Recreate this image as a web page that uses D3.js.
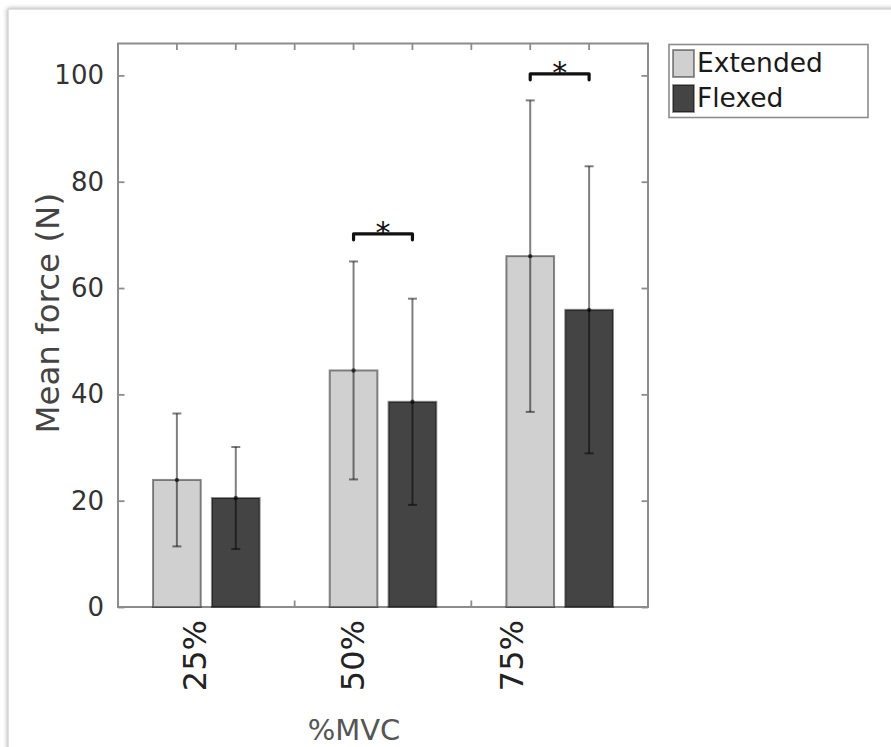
<!DOCTYPE html>
<html>
<head>
<meta charset="utf-8">
<script src="https://cdn.jsdelivr.net/npm/d3@7/dist/d3.min.js"></script>
<style>
  html, body { margin: 0; padding: 0; background: #fff; }
  svg { display: block; }
  text { font-family: "DejaVu Sans", sans-serif; }
</style>
</head>
<body>
<svg id="chart" width="891" height="747"></svg>
<script>
// Mean force per contraction level, wrist extended vs flexed
const categories = ["25%", "50%", "75%"];
const seriesNames = ["Extended", "Flexed"];
const extendedMean = [23.9, 44.5, 66.0];
const extendedSD = [12.5, 20.5, 29.3];
const flexedMean = [20.5, 38.6, 55.9];
const flexedSD = [9.6, 19.4, 27.0];
const yTicks = [0, 20, 40, 60, 80, 100];
// Significant pairwise differences: category index and bracket height (N)
const sigCategory = [1, 2];
const sigLevel = [70.2, 100.3];

const seriesMean = [extendedMean, flexedMean];
const seriesSD = [extendedSD, flexedSD];
const fills = ["#d0d0d0", "#444444"];

const svg = d3.select("#chart");
const W = 891, H = 747;
const plot = { left: 118, right: 648, top: 43.5, bottom: 607 };

// Card-style page background with a soft shadow
const defs = svg.append("defs");
const shadow = defs.append("filter").attr("id", "cardShadow")
  .attr("x", "-5%").attr("y", "-5%").attr("width", "110%").attr("height", "110%");
shadow.append("feGaussianBlur").attr("in", "SourceAlpha").attr("stdDeviation", 2.5).attr("result", "b");
shadow.append("feComponentTransfer").attr("in", "b").attr("result", "s")
  .append("feFuncA").attr("type", "linear").attr("slope", 0.35);
const merge = shadow.append("feMerge");
merge.append("feMergeNode").attr("in", "s");
merge.append("feMergeNode").attr("in", "SourceGraphic");

svg.append("rect").attr("width", W).attr("height", H).attr("fill", "#fff");
svg.append("rect")
  .attr("x", 8).attr("y", 9).attr("width", W + 40).attr("height", H + 40)
  .attr("fill", "#fff").attr("stroke", "#c4c4c4").attr("stroke-width", 1)
  .attr("filter", "url(#cardShadow)");

const x = d3.scaleLinear().domain([0.5, categories.length + 0.5]).range([plot.left, plot.right]);
const y = d3.scaleLinear().domain([0, 106]).range([plot.bottom, plot.top]);

const barOffset = 1 / 6;
const barWidth = 0.27;
const bw = x(barWidth) - x(0);

// Axes box
const axisColor = "#8c8c8c";
svg.append("rect")
  .attr("x", plot.left).attr("y", plot.top)
  .attr("width", plot.right - plot.left).attr("height", plot.bottom - plot.top)
  .attr("fill", "#fff").attr("stroke", axisColor).attr("stroke-width", 2);

// Tick positions along x: each bar centre plus the gaps between groups
const xTickVals = [];
categories.forEach((c, i) => {
  xTickVals.push(i + 1 - barOffset, i + 1 + barOffset);
  if (i < categories.length - 1) xTickVals.push(i + 1.5);
});

const axG = svg.append("g");
const tl = 6.5;
xTickVals.forEach(v => {
  axG.append("line").attr("x1", x(v)).attr("x2", x(v))
    .attr("y1", plot.top).attr("y2", plot.top + tl)
    .attr("stroke", axisColor).attr("stroke-width", 1.8);
  axG.append("line").attr("x1", x(v)).attr("x2", x(v))
    .attr("y1", plot.bottom).attr("y2", plot.bottom - tl)
    .attr("stroke", axisColor).attr("stroke-width", 1.8);
});

// Y axis, ticks mirrored on the right edge
const yAxis = d3.axisLeft(y).tickValues(yTicks).tickSizeInner(-tl).tickSizeOuter(0).tickPadding(14);
const yg = svg.append("g").attr("transform", `translate(${plot.left},0)`).call(yAxis);
yg.select(".domain").remove();
yg.selectAll(".tick line").attr("stroke", axisColor).attr("stroke-width", 1.8);
yg.selectAll(".tick text")
  .attr("fill", "#333").attr("font-size", 26).attr("font-family", "DejaVu Sans");

const yAxisR = d3.axisRight(y).tickValues(yTicks).tickSizeInner(-tl).tickSizeOuter(0).tickFormat("");
const ygr = svg.append("g").attr("transform", `translate(${plot.right},0)`).call(yAxisR);
ygr.select(".domain").remove();
ygr.selectAll(".tick line").attr("stroke", axisColor).attr("stroke-width", 1.8);

// Bars
const barsG = svg.append("g");
seriesMean.forEach((means, s) => {
  const off = s === 0 ? -barOffset : barOffset;
  barsG.selectAll(null).data(means).join("rect")
    .attr("x", (d, i) => x(i + 1 + off) - bw / 2)
    .attr("y", d => y(d))
    .attr("width", bw)
    .attr("height", d => y(0) - y(d))
    .attr("fill", fills[s])
    .attr("stroke", "#000").attr("stroke-opacity", 0.45).attr("stroke-width", 2);
});

// Error bars (± SD)
const errG = svg.append("g")
  .attr("stroke", "#000").attr("stroke-opacity", 0.5).attr("stroke-width", 2);
const capHalf = 4.5;
seriesMean.forEach((means, s) => {
  const off = s === 0 ? -barOffset : barOffset;
  means.forEach((m, i) => {
    const cx = x(i + 1 + off);
    const lo = y(m - seriesSD[s][i]), hi = y(m + seriesSD[s][i]);
    errG.append("line").attr("x1", cx).attr("x2", cx).attr("y1", lo).attr("y2", hi);
    errG.append("line").attr("x1", cx - capHalf).attr("x2", cx + capHalf).attr("y1", hi).attr("y2", hi);
    errG.append("line").attr("x1", cx - capHalf).attr("x2", cx + capHalf).attr("y1", lo).attr("y2", lo);
    svg.append("circle").attr("cx", cx).attr("cy", y(m)).attr("r", 2.2)
      .attr("fill", "#000").attr("fill-opacity", 0.6);
  });
});

// Significance brackets with asterisks
const sigG = svg.append("g");
sigCategory.forEach((ci, k) => {
  const x1 = x(ci + 1 - barOffset), x2 = x(ci + 1 + barOffset);
  const yy = y(sigLevel[k]);
  sigG.append("path")
    .attr("d", `M${x1},${yy + 6}V${yy}H${x2}V${yy + 6}`)
    .attr("fill", "none").attr("stroke", "#111").attr("stroke-width", 3.2)
    .attr("stroke-linejoin", "round").attr("stroke-linecap", "round");
  sigG.append("text")
    .attr("x", (x1 + x2) / 2).attr("y", yy + 9)
    .attr("text-anchor", "middle").attr("font-size", 30).attr("fill", "#111")
    .text("*");
});

// X tick labels, rotated
const labelPos = d3.scalePoint().domain(categories).range([x(0.936), x(2.73)]);
svg.append("g").selectAll("text").data(categories).join("text")
  .attr("transform", d => `translate(${labelPos(d)},${plot.bottom + 13}) rotate(-90)`)
  .attr("text-anchor", "end").attr("dominant-baseline", "central")
  .attr("font-size", 32).attr("fill", "#222")
  .text(d => d);

// Axis titles
svg.append("text")
  .attr("x", (plot.left + plot.right) / 2 - 29).attr("y", 740)
  .attr("text-anchor", "middle").attr("font-size", 29).attr("fill", "#555")
  .text("%MVC");
svg.append("text")
  .attr("transform", `translate(48,${(plot.top + plot.bottom) / 2 - 12}) rotate(-90)`)
  .attr("text-anchor", "middle").attr("dominant-baseline", "central")
  .attr("font-size", 32.5).attr("fill", "#444")
  .text("Mean force (N)");

// Legend
const lg = svg.append("g");
lg.append("rect").attr("x", 669).attr("y", 44.5).attr("width", 199).attr("height", 73)
  .attr("fill", "#fff").attr("stroke", axisColor).attr("stroke-width", 1.6);
seriesNames.forEach((name, s) => {
  const top = 50 + s * 35;
  lg.append("rect").attr("x", 673).attr("y", top).attr("width", 21).attr("height", 27)
    .attr("fill", fills[s]).attr("stroke", "#000").attr("stroke-opacity", 0.45).attr("stroke-width", 1.8);
  lg.append("text").attr("x", 697).attr("y", top + 22)
    .attr("font-size", 26.5).attr("fill", "#1a1a1a").text(name);
});
</script>
</body>
</html>
